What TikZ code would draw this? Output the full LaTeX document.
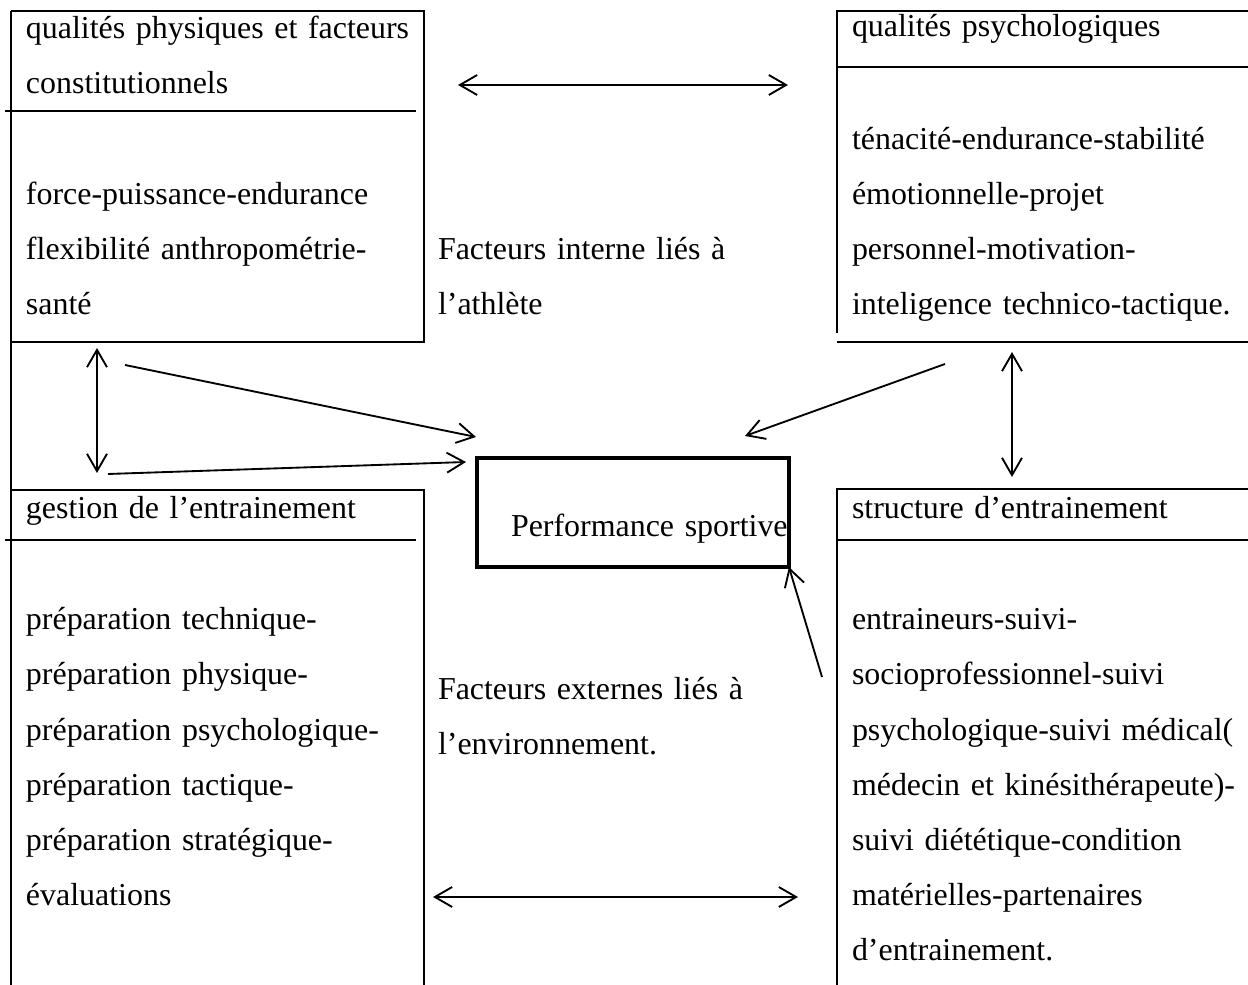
\documentclass[tikz,border=0pt]{standalone}
\usepackage{fontspec}
\setmainfont{Liberation Serif}
\usetikzlibrary{arrows.meta}
\newcommand\blocfont{\fontsize{12}{20.67}\selectfont\spaceskip=2.5pt\relax}

\begin{document}
\begin{tikzpicture}[
                    % one unit = one pixel of the page
                    x=0.3758pt, y=-0.3758pt,
                    every path/.style={color=black, line width=0.8pt},
                    every node/.style={inner sep=0pt, outer sep=0pt},
                    % text blocks, first baseline at the given point
                    bloc/.style={anchor=base west, align=left, text width=175pt, font=\blocfont},
                    fleche/.style={line width=0.7pt, -{Straight Barb[length=6.5pt,width=7.5pt]}},
                    dfleche/.style={line width=0.7pt, {Straight Barb[length=6.5pt,width=7.5pt]}-{Straight Barb[length=6.5pt,width=7.5pt]}},
                    perfbox/.style={draw, line width=1.5pt, minimum width=117.2pt, minimum height=41pt}
                  ]
  \useasboundingbox (0,0) rectangle (1248,985);

  % --- Define dimensions ---
  \def\Xg{11}      % left edge of the left boxes
  \def\Xgd{424}    % right edge of the left boxes
  \def\Xd{837}     % left edge of the right boxes
  \def\Xfin{1248}  % page edge

  % --- Left boxes ---
  \draw (\Xg, 11) -- (\Xg, 985);
  \draw (\Xg, 11) -| (\Xgd, 342) -- (\Xg, 342);
  \draw (5, 111) -- (416, 111);
  \draw (\Xg, 490) -| (\Xgd, 985);
  \draw (5, 540) -- (416, 540);

  % --- Right boxes ---
  \draw (\Xfin, 11) -- (\Xd, 11) -- (\Xd, 333);
  \draw (\Xd, 67) -- (\Xfin, 67);
  \draw (\Xd, 342) -- (\Xfin, 342);
  \draw (\Xfin, 489) -- (\Xd, 489) -- (\Xd, 985);
  \draw (\Xd, 540) -- (\Xfin, 540);

  % --- Texts ---
  \node[bloc] (physiqueTitre) at (26, 39) {qualités physiques et facteurs\\constitutionnels};
  \node[bloc] (physique) at (26, 205) {force-puissance-endurance\\flexibilité anthropométrie-\\santé};
  \node[bloc] (psychoTitre) at (852, 37) {qualités psychologiques};
  \node[bloc] (psycho) at (852, 150) {ténacité-endurance-stabilité\\émotionnelle-projet\\personnel-motivation-\\inteligence technico-tactique.};
  \node[bloc] (interne) at (438, 260) {Facteurs interne liés à\\l’athlète};

  \node[bloc] (gestionTitre) at (26, 519) {gestion de l’entrainement};
  \node[bloc] (gestion) at (26, 630) {préparation technique-\\préparation physique-\\préparation psychologique-\\préparation tactique-\\préparation stratégique-\\évaluations};
  \node[bloc] (structureTitre) at (852, 519) {structure d’entrainement};
  \node[bloc] (structure) at (852, 630) {entraineurs-suivi-\\socioprofessionnel-suivi\\psychologique-suivi médical(\\médecin et kinésithérapeute)-\\suivi diététique-condition\\matérielles-partenaires\\d’entrainement.};
  \node[bloc] (externe) at (438, 700) {Facteurs externes liés à\\l’environnement.};

  % --- Performance ---
  \node[perfbox] (perf) at (633, 512.5) {};
  \node[bloc] (perfTxt) at (511, 537) {Performance sportive};

  % --- Arrow ends ---
  \coordinate (hautG) at (458, 85);
  \coordinate (hautD) at (788, 85);
  \coordinate (basG) at (433, 897);
  \coordinate (basD) at (798, 897);
  \coordinate (gaucheH) at (97, 348);
  \coordinate (gaucheB) at (97, 473);
  \coordinate (droiteH) at (1012, 352);
  \coordinate (droiteB) at (1012, 477);
  \coordinate (physiqueOut) at (125, 365);
  \coordinate (physiqueIn) at (476, 437);
  \coordinate (gestionOut) at (108, 474);
  \coordinate (gestionIn) at (466, 462);
  \coordinate (psychoOut) at (945, 364);
  \coordinate (psychoIn) at (745, 436);
  \coordinate (structureOut) at (822, 677);

  \draw[dfleche] (hautG) -- (hautD);
  \draw[dfleche] (basG) -- (basD);
  \draw[dfleche] (gaucheH) -- (gaucheB);
  \draw[dfleche] (droiteH) -- (droiteB);
  \draw[fleche] (physiqueOut) -- (physiqueIn);
  \draw[fleche] (gestionOut) -- (gestionIn);
  \draw[fleche] (psychoOut) -- (psychoIn);
  \draw[fleche] (structureOut) -- (perf.south east);

\end{tikzpicture}
\end{document}
